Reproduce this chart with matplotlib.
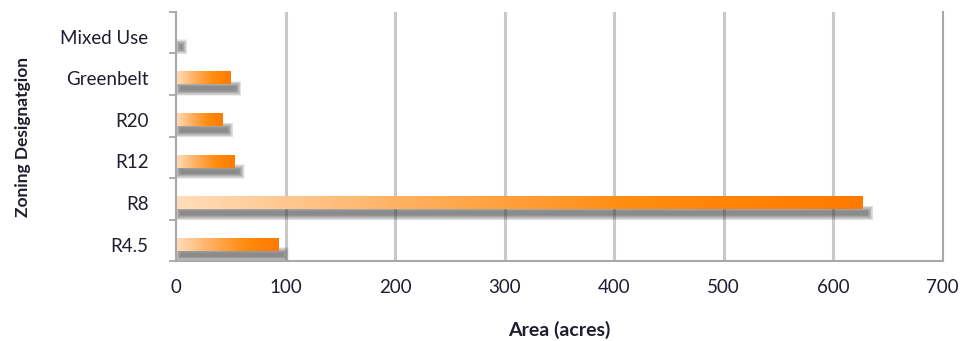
import numpy as np
import matplotlib.pyplot as plt
from matplotlib.patches import Rectangle
from matplotlib.colors import LinearSegmentedColormap

# Data
categories = ["R4.5", "R8", "R12", "R20", "Greenbelt", "Mixed Use"]
area_acres = [93.5, 627, 53, 42.5, 50, 0.5]
x_ticks = [0, 100, 200, 300, 400, 500, 600, 700]

plt.rcParams['font.family'] = ['Lato', 'DejaVu Sans']
text_color = "#1e1e2e"

fig = plt.figure(figsize=(9.63, 3.41), dpi=100)
ax = fig.add_axes([0.183, 0.234, 0.796, 0.731])

ypos = np.arange(len(categories)) - 0.1
bar_h = 0.29

cmap = LinearSegmentedColormap.from_list(
    "orange_grad", ["#FFDDBB", "#FFB060", "#FF8C10", "#FF7A00"])
grad = np.linspace(0, 1, 256).reshape(1, -1)

# vertical gridlines behind bars
for t in x_ticks[1:]:
    ax.axvline(t, color="#c8c8c8", lw=2.2, zorder=0)

px_x = 700 / 767.0   # data units per pixel, x
px_y = 6 / 250.0     # data units per pixel, y

for y, v in zip(ypos, area_acres):
    # soft drop shadow under each bar
    sh_top = y - bar_h / 2 - 2 * px_y
    sh_h = 4 * px_y
    for k in range(10):
        g = 0.6 * k
        ax.add_patch(Rectangle((4 * px_x - g * px_x, sh_top - sh_h - g * px_y),
                               v + 1 * px_x + 2 * g * px_x, sh_h + 2 * g * px_y,
                               color="#383838", alpha=0.08, lw=0, zorder=1))
    if v > 0:
        ax.imshow(grad, cmap=cmap, aspect="auto", interpolation="bilinear",
                  extent=(0, v, y - bar_h / 2, y + bar_h / 2), zorder=2)

ax.set_xlim(0, 700)
ax.set_ylim(-0.5, len(categories) - 0.5)
ax.set_xticks(x_ticks)
ax.set_yticks(ypos)
ax.set_yticklabels(categories)
ax.set_yticks(np.arange(len(categories) + 1) - 0.5, minor=True)
ax.tick_params(axis="y", which="major", length=0, pad=20, labelsize=13.5,
               labelcolor=text_color)
ax.tick_params(axis="y", which="minor", length=5, width=1.2, color="#a0a0a0")
ax.tick_params(axis="x", length=0, pad=13, labelsize=13.5, labelcolor=text_color)

for s in ["left", "bottom", "right"]:
    ax.spines[s].set_color("#a8a8a8")
    ax.spines[s].set_linewidth(1.5)
ax.spines["top"].set_visible(False)

ax.set_xlabel("Area (acres)", fontweight="bold", fontsize=14, color=text_color)
ax.xaxis.set_label_coords(0.5, -0.24)
ax.set_ylabel("Zoning Designatgion", fontweight="bold", fontsize=12.5,
              color=text_color)
ax.yaxis.set_label_coords(-0.19, 0.5)

fig.savefig("out.png", dpi=100)
